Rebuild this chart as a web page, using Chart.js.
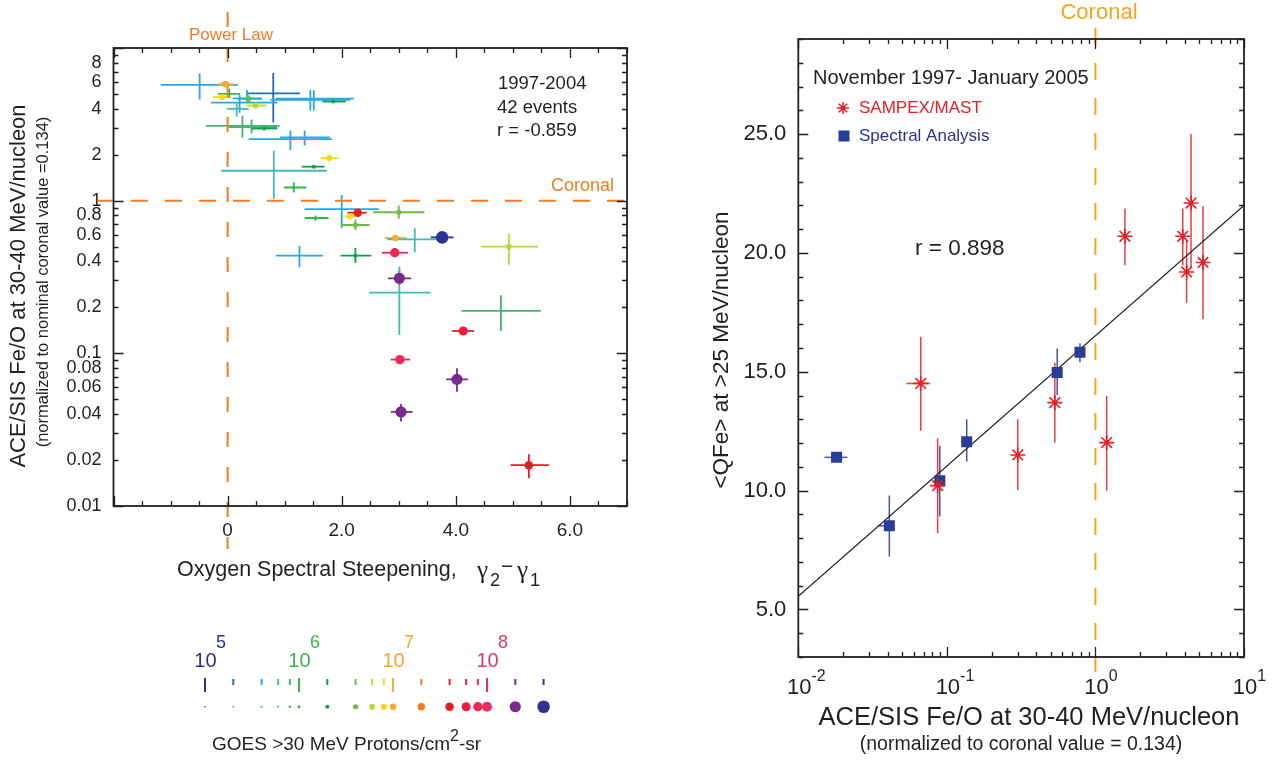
<!DOCTYPE html>
<html>
<head>
<meta charset="utf-8">
<script src="https://cdn.jsdelivr.net/npm/chart.js@4.4.1/dist/chart.umd.min.js"></script>
<style>
  html, body { margin: 0; padding: 0; background: #fff; }
  body { width: 1275px; height: 762px; position: relative; overflow: hidden; }
  canvas { position: absolute; }
</style>
</head>
<body>
<canvas id="left" width="660" height="610" style="left:0;top:0"></canvas>
<canvas id="goes" width="450" height="132" style="left:150px;top:630px"></canvas>
<canvas id="right" width="595" height="762" style="left:680px;top:0"></canvas>
<script>
var FONT = '"Liberation Sans", Arial, Helvetica, sans-serif';
var INK = '#231f20';

// left panel: Fe/O vs oxygen spectral steepening (one entry per event)
var leftX    = [-0.49, -0.04, -0.10, 0.03, 0.80, 0.37, 0.21, 0.34, 1.45, 1.51, 1.85, 0.49, 0.16, 0.26, 0.42, 0.64, 1.10, 1.35, 1.78, 1.51, 0.81, 1.16, 2.00, 2.28, 2.15, 1.54, 3.00, 2.24, 2.94, 3.28, 3.76, 4.93, 1.26, 2.24, 2.93, 3.01, 3.01, 4.79, 4.13, 3.02, 4.02, 3.04, 5.28];
var leftY    = [5.74, 5.8, 4.77, 5.0, 5.05, 4.64, 4.39, 4.68, 4.57, 4.66, 4.46, 4.20, 3.99, 3.09, 3.03, 2.97, 2.53, 2.60, 1.90, 1.67, 1.57, 1.22, 0.88, 0.834, 0.79, 0.77, 0.84, 0.693, 0.569, 0.558, 0.575, 0.50, 0.436, 0.436, 0.456, 0.31, 0.25, 0.19, 0.14, 0.091, 0.0675, 0.0413, 0.0185];
var leftXLo  = [-1.17, -0.17, -0.26, -0.17, 0.33, 0.17, -0.29, 0.09, 0.75, 0.84, 1.66, 0.33, -0.01, -0.38, 0.02, 0.41, 0.37, 0.92, 1.63, 1.30, -0.11, 0.99, 1.35, 2.10, 2.05, 1.35, 2.55, 1.99, 2.75, 2.80, 3.56, 4.45, 0.85, 1.98, 2.70, 2.81, 2.48, 4.10, 3.93, 2.86, 3.83, 2.86, 4.96];
var leftXHi  = [0.18, 0.10, 0.05, 0.22, 1.27, 0.60, 0.87, 0.60, 2.15, 2.21, 2.07, 0.68, 0.37, 0.91, 0.87, 0.87, 1.83, 1.79, 1.95, 1.70, 1.74, 1.38, 2.65, 2.44, 2.25, 1.77, 3.45, 2.49, 3.14, 3.68, 3.96, 5.44, 1.67, 2.52, 3.16, 3.22, 3.56, 5.49, 4.32, 3.20, 4.21, 3.24, 5.63];
var leftYLo  = [4.6, 5.8, 4.77, 4.7, 3.25, 4.4, 3.77, 4.4, 3.9, 3.9, 4.46, 4.20, 3.55, 2.58, 2.75, 2.97, 2.15, 2.3, 1.90, 1.67, 1.03, 1.13, 0.66, 0.834, 0.79, 0.74, 0.76, 0.64, 0.569, 0.46, 0.575, 0.38, 0.366, 0.39, 0.456, 0.28, 0.132, 0.14, 0.14, 0.091, 0.056, 0.0358, 0.0152];
var leftYHi  = [6.8, 5.8, 4.77, 5.4, 6.85, 4.9, 4.93, 5.3, 5.3, 5.3, 4.46, 4.20, 4.35, 3.6, 3.4, 2.97, 2.88, 2.88, 1.90, 1.67, 2.12, 1.32, 1.09, 0.834, 0.79, 0.80, 0.93, 0.75, 0.569, 0.66, 0.575, 0.61, 0.505, 0.49, 0.456, 0.35, 0.37, 0.24, 0.14, 0.091, 0.08, 0.0465, 0.0218];
var leftFlux = [4e5, 1e7, 8e6, 1e6, 2e5, 4e6, 4e5, 4e5, 4e5, 4e5, 2e6, 6e6, 6e5, 8e5, 8e5, 2e6, 4e5, 4e5, 8e6, 2e6, 6e5, 1e6, 4e5, 4e7, 8e6, 1e6, 4e6, 4e6, 1e7, 6e5, 4e8, 6e6, 4e5, 2e6, 8e7, 2e8, 6e5, 8e5, 6e7, 8e7, 2e8, 2e8, 4e7];
var leftXTickValues = [0, 2, 4, 6];
var leftXTickLabels = ['0', '2.0', '4.0', '6.0'];
var leftYTickValues = [0.01, 0.02, 0.04, 0.06, 0.08, 0.1, 0.2, 0.4, 0.6, 0.8, 1, 2, 4, 6, 8];
var leftYTickLabels = ['0.01', '0.02', '0.04', '0.06', '0.08', '0.1', '0.2', '0.4', '0.6', '0.8', '1', '2', '4', '6', '8'];

// GOES >30 MeV proton fluence key
var goesFlux    = [1e5, 2e5, 4e5, 6e5, 8e5, 1e6, 2e6, 4e6, 6e6, 8e6, 1e7, 2e7, 4e7, 6e7, 8e7, 1e8, 2e8, 4e8];
var goesColors  = ['#2e3192', '#1c6fb8', '#27aae1', '#3ebdb4', '#45b66e', '#39b54a', '#0ca24b', '#6abd45', '#c0d62f', '#f0dc1c', '#f8ad2f', '#f37a20', '#ec1c24', '#ed1c3a', '#ec2a58', '#ea2f62', '#7a2a8e', '#2e3192'];
var goesRadius  = [0.8, 0.8, 0.9, 1.1, 1.3, 1.5, 2.0, 2.6, 2.9, 3.1, 3.3, 3.7, 4.3, 4.5, 4.7, 5.0, 5.6, 6.3];
var goesDecades = [1e5, 1e6, 1e7, 1e8];
var goesExponents = ['5', '6', '7', '8'];
var goesDecadeColors = ['#2e3192', '#39b54a', '#f8a531', '#e9336a'];

// right panel: mean Fe charge state vs Fe/O
var sampexX   = [0.0667, 0.0867, 0.30, 0.533, 1.19, 1.58, 3.87, 4.11, 4.40, 5.30];
var sampexY   = [14.51, 10.21, 11.50, 13.70, 12.02, 20.70, 20.70, 19.20, 22.10, 19.60];
var sampexXLo = [0.0534, 0.0867, 0.30, 0.533, 1.19, 1.58, 3.87, 4.11, 4.40, 5.30];
var sampexXHi = [0.0769, 0.0867, 0.30, 0.533, 1.19, 1.58, 3.87, 4.11, 4.40, 5.30];
var sampexYLo = [12.52, 8.21, 10.03, 12.02, 10.00, 19.48, 19.48, 17.90, 19.40, 17.21];
var sampexYHi = [16.47, 12.20, 13.00, 15.38, 13.98, 21.87, 21.87, 20.53, 25.00, 21.96];
var specX   = [0.0181, 0.0410, 0.0896, 0.136, 0.553, 0.787];
var specY   = [11.40, 8.52, 10.41, 12.06, 14.97, 15.82];
var specXLo = [0.0150, 0.0343, 0.0896, 0.136, 0.553, 0.76];
var specXHi = [0.0214, 0.0443, 0.0896, 0.136, 0.553, 0.82];
var specYLo = [11.40, 7.23, 8.91, 11.22, 14.02, 15.40];
var specYHi = [11.40, 9.79, 11.89, 13.00, 15.98, 16.20];
var fitX = [0.01, 10];
var fitY = [5.55, 22.0];
var rightXDecades = [0.01, 0.1, 1, 10];
var rightXExponents = ['-2', '-1', '0', '1'];
var rightYTickValues = [5, 10, 15, 20, 25];
var rightYTickLabels = ['5.0', '10.0', '15.0', '20.0', '25.0'];

function fluxIndex(f) { return goesFlux.indexOf(f); }
function fluxColor(f) { return goesColors[fluxIndex(f)]; }
function fluxRadius(f) { return goesRadius[fluxIndex(f)]; }

function pick(values, labels, v) {
  for (var i = 0; i < values.length; i++) {
    if (Math.abs(values[i] - v) < values[i] * 1e-6 + 1e-9) return labels[i];
  }
  return '';
}

function logTicks(min, max) {
  var out = [];
  for (var e = Math.round(Math.log10(min)); e < Math.round(Math.log10(max)); e++) {
    for (var m = 1; m < 10; m++) out.push({ value: +(m * Math.pow(10, e)).toPrecision(3) });
  }
  out.push({ value: max });
  return out;
}
function stepTicks(min, max, step) {
  var out = [];
  for (var v = min; v <= max + 1e-9; v += step) out.push({ value: Math.round(v * 100) / 100 });
  return out;
}
function isDecade(v) { var l = Math.log10(v); return Math.abs(l - Math.round(l)) < 1e-6; }

function text(ctx, str, x, y, size, color, align, rot) {
  ctx.save();
  ctx.translate(x, y);
  if (rot) ctx.rotate(rot);
  ctx.font = size + 'px ' + FONT;
  ctx.fillStyle = color || INK;
  ctx.textAlign = align || 'left';
  ctx.textBaseline = 'middle';
  ctx.fillText(str, 0, 0);
  ctx.restore();
}

function dashed(ctx, x1, y1, x2, y2, color, dash) {
  ctx.save();
  ctx.strokeStyle = color;
  ctx.lineWidth = 2;
  ctx.setLineDash(dash);
  ctx.beginPath();
  ctx.moveTo(x1, y1);
  ctx.lineTo(x2, y2);
  ctx.stroke();
  ctx.restore();
}

// error bars drawn through the chart scales, under the markers
var errorBars = {
  id: 'errorBars',
  beforeDatasetsDraw: function (chart) {
    var ctx = chart.ctx, xs = chart.scales.x, ys = chart.scales.y;
    ctx.save();
    chart.data.datasets.forEach(function (ds) {
      var e = ds.err;
      if (!e) return;
      ds.data.forEach(function (p, i) {
        var px = xs.getPixelForValue(p.x), py = ys.getPixelForValue(p.y);
        ctx.strokeStyle = e.colorOf ? e.colorOf(i) : e.color;
        ctx.lineWidth = e.width;
        ctx.beginPath();
        ctx.moveTo(xs.getPixelForValue(e.xLo[i]), py);
        ctx.lineTo(xs.getPixelForValue(e.xHi[i]), py);
        ctx.moveTo(px, ys.getPixelForValue(e.yLo[i]));
        ctx.lineTo(px, ys.getPixelForValue(e.yHi[i]));
        ctx.stroke();
      });
    });
    ctx.restore();
  }
};

// box frame with inward ticks on all four sides
function frameTicks(xMajor, yMajor) {
  return {
    id: 'frameTicks',
    afterDraw: function (chart) {
      var ctx = chart.ctx, a = chart.chartArea, xs = chart.scales.x, ys = chart.scales.y;
      ctx.save();
      ctx.strokeStyle = INK;
      ctx.lineWidth = 1.3;
      ctx.beginPath();
      xs.ticks.forEach(function (t) {
        var px = Math.round(xs.getPixelForValue(t.value)) + 0.5;
        var len = xMajor(t.value) ? 10 : 5;
        ctx.moveTo(px, a.bottom); ctx.lineTo(px, a.bottom - len);
        ctx.moveTo(px, a.top); ctx.lineTo(px, a.top + len);
      });
      ys.ticks.forEach(function (t) {
        var py = Math.round(ys.getPixelForValue(t.value)) + 0.5;
        var len = yMajor(t.value) ? 10 : 5;
        ctx.moveTo(a.left, py); ctx.lineTo(a.left + len, py);
        ctx.moveTo(a.right, py); ctx.lineTo(a.right - len, py);
      });
      ctx.stroke();
      ctx.lineWidth = 1.8;
      ctx.strokeRect(a.left, a.top, a.right - a.left, a.bottom - a.top);
      ctx.restore();
    }
  };
}

// ---------- left chart ----------
var leftDecor = {
  id: 'leftDecor',
  beforeDatasetsDraw: function (chart) {
    var ctx = chart.ctx, a = chart.chartArea, xs = chart.scales.x, ys = chart.scales.y;
    var y1 = ys.getPixelForValue(1), x0 = xs.getPixelForValue(0);
    dashed(ctx, 97, y1, a.right + 8, y1, '#f47b20', [17, 17]);
    dashed(ctx, x0, 12, x0, a.bottom + 43, '#f47b20', [15, 20]);
  },
  afterDraw: function (chart) {
    var ctx = chart.ctx;
    text(ctx, 'Power Law', 231, 35, 17, '#f47b20', 'center');
    text(ctx, 'Coronal', 614, 186, 18, '#f47b20', 'right');
    text(ctx, '1997-2004', 498, 84, 18.5);
    text(ctx, '42 events', 497, 108, 18.5);
    text(ctx, 'r = -0.859', 497, 131, 18.5);
    text(ctx, 'ACE/SIS Fe/O at 30-40 MeV/nucleon', 19, 286, 22, INK, 'center', -Math.PI / 2);
    text(ctx, '(normalized to nominal coronal value =0.134)', 43, 282, 16.5, INK, 'center', -Math.PI / 2);
    // x title with subscripts
    ctx.save();
    ctx.fillStyle = INK;
    ctx.textBaseline = 'alphabetic';
    ctx.font = '21.5px ' + FONT;
    ctx.fillText('Oxygen Spectral Steepening,', 177, 576);
    var gx = 477;
    ctx.font = '25px "Liberation Serif", serif';
    ctx.fillText('\u03b3', gx, 578);
    ctx.font = '18px ' + FONT;
    ctx.fillText('2', gx + 13, 586);
    ctx.font = '21px ' + FONT;
    ctx.fillText('\u2212', gx + 24, 573);
    ctx.font = '25px "Liberation Serif", serif';
    ctx.fillText('\u03b3', gx + 40, 578);
    ctx.font = '18px ' + FONT;
    ctx.fillText('1', gx + 53, 586);
    ctx.restore();
  }
};

new Chart(document.getElementById('left'), {
  type: 'scatter',
  data: {
    datasets: [{
      data: leftX.map(function (x, i) { return { x: x, y: leftY[i] }; }),
      pointRadius: function (c) { return fluxRadius(leftFlux[c.dataIndex]); },
      pointBackgroundColor: function (c) { return fluxColor(leftFlux[c.dataIndex]); },
      pointBorderWidth: 0,
      err: { xLo: leftXLo, xHi: leftXHi, yLo: leftYLo, yHi: leftYHi, width: 1.8,
             colorOf: function (i) { return fluxColor(leftFlux[i]); } }
    }]
  },
  options: {
    responsive: false,
    animation: false,
    layout: { padding: { left: 0, right: 33, top: 48, bottom: 0 } },
    plugins: { legend: { display: false }, tooltip: { enabled: false } },
    scales: {
      x: {
        type: 'linear', min: -2, max: 7,
        grid: { display: false, drawTicks: false }, border: { display: false },
        afterBuildTicks: function (s) { s.ticks = stepTicks(-2, 7, 0.5); },
        afterFit: function (s) { s.height = 104; },
        ticks: {
          autoSkip: false, maxRotation: 0, padding: 13, color: INK,
          font: { family: FONT, size: 19 },
          callback: function (v) { return pick(leftXTickValues, leftXTickLabels, v); }
        }
      },
      y: {
        type: 'logarithmic', min: 0.01, max: 10,
        grid: { display: false, drawTicks: false }, border: { display: false },
        afterBuildTicks: function (s) { s.ticks = logTicks(0.01, 10); },
        afterFit: function (s) { s.width = 113.5; },
        ticks: {
          autoSkip: false, padding: 12, color: INK,
          font: { family: FONT, size: 18 },
          callback: function (v) { return pick(leftYTickValues, leftYTickLabels, v); }
        }
      }
    }
  },
  plugins: [errorBars, leftDecor, frameTicks(
    function (v) { return Math.abs(v % 2) < 1e-9; },
    isDecade)]
});

// ---------- GOES colour key ----------
var goesDecor = {
  id: 'goesDecor',
  afterDraw: function (chart) {
    var ctx = chart.ctx, xs = chart.scales.x;
    ctx.save();
    ctx.translate(-150, -630);
    ctx.lineWidth = 2;
    goesFlux.forEach(function (f, i) {
      var px = xs.getPixelForValue(f) + 150;
      var major = goesDecades.indexOf(f) >= 0;
      ctx.strokeStyle = goesColors[i];
      ctx.beginPath();
      ctx.moveTo(px, major ? 678 : 679);
      ctx.lineTo(px, major ? 692 : 685);
      ctx.stroke();
    });
    goesDecades.forEach(function (f, i) {
      var px = xs.getPixelForValue(f) + 150;
      var c = goesDecadeColors[i];
      text(ctx, '10', px + 0.5, 661, 20, c, 'center');
      text(ctx, goesExponents[i], px + 11, 643, 18, c, 'left');
    });
    // caption with superscript
    ctx.fillStyle = INK;
    ctx.textBaseline = 'alphabetic';
    ctx.font = '19px ' + FONT;
    var s1 = 'GOES >30 MeV Protons/cm';
    ctx.fillText(s1, 212, 750);
    var w = ctx.measureText(s1).width;
    ctx.font = '16px ' + FONT;
    ctx.fillText('2', 212 + w, 741);
    var w2 = ctx.measureText('2').width;
    ctx.font = '19px ' + FONT;
    ctx.fillText('-sr', 212 + w + w2, 750);
    ctx.restore();
  }
};

new Chart(document.getElementById('goes'), {
  type: 'scatter',
  data: {
    datasets: [{
      data: goesFlux.map(function (f) { return { x: f, y: 0.41 }; }),
      pointRadius: goesRadius,
      pointBackgroundColor: goesColors,
      pointBorderWidth: 0
    }]
  },
  options: {
    responsive: false,
    animation: false,
    layout: { padding: { left: 26.7, right: 19, top: 0, bottom: 0 } },
    plugins: { legend: { display: false }, tooltip: { enabled: false } },
    scales: {
      x: { type: 'logarithmic', min: 5e4, max: 1e9, display: false },
      y: { type: 'linear', min: 0, max: 1, display: false }
    }
  },
  plugins: [goesDecor]
});

// ---------- right chart ----------
var rightDecor = {
  id: 'rightDecor',
  beforeDatasetsDraw: function (chart) {
    var ctx = chart.ctx, xs = chart.scales.x;
    var px = xs.getPixelForValue(1);
    dashed(ctx, px, 28, px, 672, '#f9a51a', [17, 18]);
  },
  afterDraw: function (chart) {
    var ctx = chart.ctx, xs = chart.scales.x;
    ctx.save();
    ctx.translate(-680, 0);
    text(ctx, 'Coronal', 1099, 13, 22, '#f9a51a', 'center');
    text(ctx, 'November 1997- January 2005', 813, 78, 20);
    ctx.strokeStyle = '#ed1c24';
    ctx.lineWidth = 1.5;
    Chart.helpers.drawPoint(ctx, { pointStyle: 'star', radius: 6, rotation: 0, borderWidth: 1.5 }, 843, 108);
    text(ctx, 'SAMPEX/MAST', 859, 108, 17, '#ed1c24');
    ctx.fillStyle = '#2a3d96';
    ctx.fillRect(838.5, 130.5, 11, 11);
    text(ctx, 'Spectral Analysis', 859, 136, 17, '#2e3192');
    text(ctx, 'r = 0.898', 915, 249, 22.5);
    text(ctx, '<QFe> at >25 MeV/nucleon', 722, 350, 22.5, INK, 'center', -Math.PI / 2);
    text(ctx, 'ACE/SIS Fe/O at 30-40 MeV/nucleon', 1029, 718, 25.5, INK, 'center');
    text(ctx, '(normalized to coronal value = 0.134)', 1021, 745, 19.5, INK, 'center');
    // decade labels 10^n
    rightXDecades.forEach(function (v, i) {
      var px = xs.getPixelForValue(v) + 680;
      ctx.font = '22px ' + FONT;
      var w = ctx.measureText('10').width;
      text(ctx, '10', px - w / 2 + 1, 688, 22, INK, 'left');
      text(ctx, rightXExponents[i], px + w / 2 + 1, 677, 16, INK, 'left');
    });
    ctx.restore();
  }
};

new Chart(document.getElementById('right'), {
  type: 'scatter',
  data: {
    datasets: [{
      data: sampexX.map(function (x, i) { return { x: x, y: sampexY[i] }; }),
      pointStyle: 'star',
      pointRadius: 7.5,
      borderColor: '#ed1c24',
      pointBorderWidth: 1.6,
      err: { xLo: sampexXLo, xHi: sampexXHi, yLo: sampexYLo, yHi: sampexYHi, width: 1.5, color: '#ef3b45' }
    }, {
      data: specX.map(function (x, i) { return { x: x, y: specY[i] }; }),
      pointStyle: 'rect',
      pointRadius: 7.8,
      backgroundColor: '#2a3d96',
      borderColor: '#2a3d96',
      pointBorderWidth: 0,
      err: { xLo: specXLo, xHi: specXHi, yLo: specYLo, yHi: specYHi, width: 1.5, color: '#4656a8' }
    }, {
      type: 'line',
      data: fitX.map(function (x, i) { return { x: x, y: fitY[i] }; }),
      borderColor: INK,
      borderWidth: 1.2,
      pointRadius: 0
    }]
  },
  options: {
    responsive: false,
    animation: false,
    layout: { padding: { left: 0, right: 31, top: 39, bottom: 0 } },
    plugins: { legend: { display: false }, tooltip: { enabled: false } },
    scales: {
      x: {
        type: 'logarithmic', min: 0.01, max: 10,
        grid: { display: false, drawTicks: false }, border: { display: false },
        afterBuildTicks: function (s) { s.ticks = logTicks(0.01, 10); },
        afterFit: function (s) { s.height = 105; },
        ticks: { display: false }
      },
      y: {
        type: 'linear', min: 3, max: 29,
        grid: { display: false, drawTicks: false }, border: { display: false },
        afterBuildTicks: function (s) { s.ticks = stepTicks(3, 29, 1); },
        afterFit: function (s) { s.width = 118.3; },
        ticks: {
          autoSkip: false, padding: 12, color: INK,
          font: { family: FONT, size: 22 },
          callback: function (v) { return pick(rightYTickValues, rightYTickLabels, v); }
        }
      }
    }
  },
  plugins: [errorBars, rightDecor, frameTicks(
    isDecade,
    function (v) { return Math.abs(v % 5) < 1e-9; })]
});
</script>
</body>
</html>
